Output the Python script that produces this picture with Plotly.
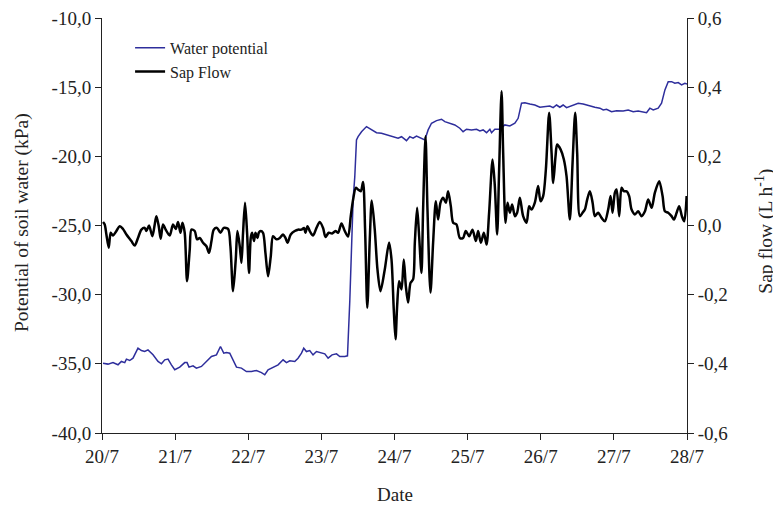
import plotly.graph_objects as go

# Days elapsed since 20/7 00:00
date_ticks = [0, 1, 2, 3, 4, 5, 6, 7, 8]
date_labels = ["20/7", "21/7", "22/7", "23/7", "24/7", "25/7", "26/7", "27/7", "28/7"]

kpa_ticks = [-40, -35, -30, -25, -20, -15, -10]
kpa_labels = ["-40,0", "-35,0", "-30,0", "-25,0", "-20,0", "-15,0", "-10,0"]

sap_ticks = [-0.6, -0.4, -0.2, 0.0, 0.2, 0.4, 0.6]
sap_labels = ["-0,6", "-0,4", "-0,2", "0,0", "0,2", "0,4", "0,6"]

# Water potential (kPa)
wp_day = [0.014, 0.082, 0.150, 0.219, 0.265, 0.311, 0.334, 0.379, 0.424, 0.492,
          0.539, 0.584, 0.629, 0.698, 0.766, 0.813, 0.858, 0.903, 0.949, 0.995,
          1.063, 1.131, 1.163, 1.190, 1.245, 1.291, 1.360, 1.428, 1.497, 1.565,
          1.620, 1.665, 1.702, 1.747, 1.792, 1.839, 1.907, 1.975, 2.044, 2.112,
          2.181, 2.226, 2.271, 2.339, 2.408, 2.476, 2.523, 2.568, 2.636, 2.681,
          2.728, 2.759, 2.796, 2.841, 2.886, 2.933, 2.978, 3.047, 3.092, 3.146,
          3.207, 3.252, 3.320, 3.357, 3.389, 3.412, 3.434, 3.457, 3.480, 3.502,
          3.549, 3.617, 3.685, 3.754, 3.822, 3.891, 3.981, 4.049, 4.096, 4.164,
          4.209, 4.254, 4.301, 4.369, 4.415, 4.460, 4.506, 4.575, 4.643, 4.688,
          4.757, 4.825, 4.893, 4.938, 4.985, 5.053, 5.122, 5.167, 5.212, 5.259,
          5.304, 5.327, 5.372, 5.441, 5.509, 5.577, 5.646, 5.691, 5.737, 5.783,
          5.851, 5.919, 5.988, 6.056, 6.124, 6.170, 6.216, 6.261, 6.306, 6.353,
          6.421, 6.512, 6.580, 6.672, 6.740, 6.809, 6.854, 6.900, 6.968, 7.037,
          7.127, 7.196, 7.264, 7.332, 7.401, 7.447, 7.492, 7.538, 7.606, 7.652,
          7.698, 7.743, 7.789, 7.834, 7.880, 7.926, 7.971, 8.000]
wp_kpa = [-34.95, -35.02, -34.91, -35.07, -34.83, -34.91, -34.66, -34.76, -34.59, -33.87,
          -34.04, -34.11, -33.99, -34.35, -34.83, -35.00, -34.71, -34.66, -35.07, -35.43,
          -35.24, -34.91, -34.91, -35.24, -35.14, -35.31, -35.19, -34.83, -34.47, -34.35,
          -33.75, -34.23, -34.18, -34.23, -34.71, -35.24, -35.31, -35.56, -35.56, -35.48,
          -35.63, -35.79, -35.43, -35.27, -35.07, -34.71, -34.91, -34.78, -34.83, -34.59,
          -34.23, -33.87, -34.11, -34.04, -34.35, -34.11, -34.18, -34.28, -34.59, -34.35,
          -34.28, -34.47, -34.47, -34.42, -30.40, -26.76, -23.15, -21.47, -18.82, -18.58,
          -18.22, -17.85, -18.09, -18.29, -18.33, -18.45, -18.58, -18.69, -18.58, -18.87,
          -18.58, -18.69, -18.53, -18.69, -18.82, -18.09, -17.61, -17.42, -17.32, -17.49,
          -17.61, -17.73, -17.97, -18.22, -18.04, -18.10, -18.04, -18.16, -18.09, -18.29,
          -18.04, -18.29, -18.04, -18.04, -17.73, -17.80, -17.61, -17.25, -16.16, -16.12,
          -16.21, -16.29, -16.45, -16.41, -16.36, -16.48, -16.29, -16.45, -16.29, -16.48,
          -16.36, -16.16, -16.21, -16.36, -16.45, -16.52, -16.65, -16.60, -16.77, -16.70,
          -16.72, -16.65, -16.77, -16.72, -16.77, -16.84, -16.52, -16.65, -16.52, -16.16,
          -15.20, -14.60, -14.60, -14.72, -14.67, -14.84, -14.72, -14.77]

# Sap flow (L h-1)
sf_day = [0.014, 0.037, 0.060, 0.092, 0.119, 0.150, 0.197, 0.242, 0.287, 0.334,
          0.402, 0.447, 0.492, 0.539, 0.584, 0.607, 0.643, 0.689, 0.721, 0.744,
          0.776, 0.803, 0.834, 0.871, 0.926, 0.971, 1.008, 1.040, 1.073, 1.100,
          1.131, 1.163, 1.200, 1.223, 1.268, 1.300, 1.337, 1.382, 1.428, 1.464,
          1.497, 1.528, 1.573, 1.620, 1.665, 1.724, 1.756, 1.792, 1.829, 1.852,
          1.884, 1.907, 1.929, 1.956, 1.984, 2.011, 2.034, 2.052, 2.079, 2.098,
          2.126, 2.144, 2.171, 2.202, 2.235, 2.271, 2.308, 2.339, 2.386, 2.431,
          2.476, 2.509, 2.536, 2.581, 2.636, 2.681, 2.728, 2.763, 2.782, 2.810,
          2.841, 2.886, 2.933, 2.978, 3.023, 3.056, 3.101, 3.146, 3.193, 3.228,
          3.275, 3.320, 3.365, 3.402, 3.434, 3.471, 3.502, 3.539, 3.570, 3.598,
          3.628, 3.662, 3.689, 3.730, 3.767, 3.808, 3.867, 3.926, 3.959, 3.990,
          4.014, 4.036, 4.063, 4.096, 4.127, 4.155, 4.186, 4.219, 4.254, 4.278,
          4.309, 4.337, 4.369, 4.391, 4.424, 4.451, 4.492, 4.528, 4.565, 4.596,
          4.629, 4.665, 4.702, 4.733, 4.770, 4.802, 4.848, 4.893, 4.938, 4.975,
          5.021, 5.067, 5.112, 5.144, 5.181, 5.222, 5.259, 5.294, 5.341, 5.372,
          5.404, 5.431, 5.464, 5.486, 5.518, 5.546, 5.577, 5.609, 5.646, 5.677,
          5.714, 5.759, 5.806, 5.841, 5.874, 5.919, 5.964, 5.997, 6.033, 6.070,
          6.115, 6.148, 6.170, 6.202, 6.224, 6.271, 6.316, 6.353, 6.398, 6.435,
          6.471, 6.498, 6.535, 6.572, 6.603, 6.635, 6.672, 6.709, 6.740, 6.785,
          6.832, 6.877, 6.922, 6.955, 6.982, 7.014, 7.037, 7.073, 7.105, 7.137,
          7.174, 7.209, 7.242, 7.288, 7.332, 7.378, 7.425, 7.469, 7.516, 7.561,
          7.620, 7.666, 7.698, 7.743, 7.789, 7.821, 7.858, 7.893, 7.930, 7.962,
          7.995]
sf_lh = [0.010, 0.003, -0.026, -0.064, -0.021, -0.029, -0.016, -0.002, -0.010, -0.026,
         -0.045, -0.058, -0.036, -0.012, -0.007, -0.016, 0.000, -0.031, 0.003, 0.027,
         -0.002, -0.038, 0.003, -0.012, -0.029, 0.003, -0.010, 0.010, -0.021, 0.008,
         -0.021, -0.161, -0.069, -0.012, -0.016, -0.040, -0.036, -0.050, -0.060, -0.079,
         -0.045, -0.012, -0.007, -0.021, -0.007, -0.010, -0.060, -0.190, -0.098, -0.016,
         -0.060, -0.108, -0.021, 0.066, -0.021, -0.137, -0.036, -0.021, -0.045, -0.021,
         -0.036, -0.021, -0.016, -0.021, -0.079, -0.147, -0.089, -0.031, -0.040, -0.036,
         -0.026, -0.036, -0.050, -0.026, -0.016, -0.012, -0.012, -0.007, -0.021, -0.002,
         -0.016, -0.029, -0.007, 0.010, -0.007, -0.033, -0.021, -0.023, -0.016, -0.021,
         0.006, -0.016, -0.032, 0.027, 0.075, 0.109, 0.104, 0.099, 0.126, -0.012,
         -0.238, -0.040, 0.072, -0.012, -0.127, -0.190, -0.127, -0.049, -0.098, -0.243,
         -0.329, -0.233, -0.161, -0.185, -0.098, -0.175, -0.223, -0.166, -0.156, -0.050,
         0.051, -0.031, -0.137, 0.046, 0.258, 0.046, -0.194, -0.050, 0.070, 0.017,
         0.066, 0.080, 0.066, 0.099, 0.056, 0.008, 0.003, -0.036, -0.036, -0.016,
         -0.031, -0.012, -0.045, -0.016, -0.050, -0.021, -0.055, 0.037, 0.191, 0.114,
         -0.026, 0.162, 0.388, 0.210, 0.008, 0.066, 0.037, 0.061, 0.027, 0.037,
         0.080, 0.027, 0.008, 0.056, 0.046, 0.066, 0.114, 0.070, 0.085, 0.162,
         0.326, 0.210, 0.123, 0.200, 0.234, 0.220, 0.191, 0.142, 0.017, 0.181,
         0.326, 0.210, 0.027, 0.037, 0.046, 0.075, 0.099, 0.066, 0.027, 0.037,
         0.022, 0.012, 0.046, 0.085, 0.037, 0.095, 0.104, 0.027, 0.109, 0.099,
         0.099, 0.085, 0.046, 0.032, 0.041, 0.027, 0.041, 0.075, 0.051, 0.095,
         0.128, 0.085, 0.041, 0.037, 0.027, 0.017, 0.037, 0.056, 0.027, 0.012,
         0.085]

FONT = "Liberation Serif"
TXT = "#222222"

fig = go.Figure()
fig.add_trace(go.Scatter(
    x=wp_day, y=wp_kpa, name="Water potential", mode="lines",
    line=dict(color="#2e2e9c", width=1.5), yaxis="y"))
fig.add_trace(go.Scatter(
    x=sf_day, y=sf_lh, name="Sap Flow", mode="lines",
    line=dict(color="#000000", width=2.5, shape="spline", smoothing=0.8), yaxis="y2"))

axis_common = dict(showgrid=False, zeroline=False, showline=True, linecolor="#222222",
                   linewidth=1, ticks="outside", ticklen=6, tickcolor="#222222",
                   ticklabeloverflow="allow", automargin=False,
                   tickfont=dict(family=FONT, size=19, color=TXT))

fig.update_layout(
    width=781, height=506,
    margin=dict(l=94, r=102, t=10, b=81),
    paper_bgcolor="white", plot_bgcolor="white",
    showlegend=True,
    legend=dict(x=0.048, y=0.969, xanchor="left", yanchor="top",
                font=dict(family=FONT, size=16, color=TXT),
                bgcolor="rgba(0,0,0,0)", tracegroupgap=0, itemwidth=30),
    xaxis=dict(range=[0, 8], tickvals=date_ticks, ticktext=date_labels, **axis_common),
    yaxis=dict(range=[-40, -10], tickvals=kpa_ticks, ticktext=kpa_labels, **axis_common),
    yaxis2=dict(range=[-0.6, 0.6], tickvals=sap_ticks, ticktext=sap_labels,
                overlaying="y", side="right", anchor="x", **axis_common),
    annotations=[
        dict(text="Potential of soil water (kPa)", xref="paper", yref="paper",
             x=-0.137, y=0.508, xanchor="center", yanchor="middle",
             textangle=-90, showarrow=False,
             font=dict(family=FONT, size=19.5, color=TXT)),
        dict(text="Sap flow (L h<sup>-1</sup>)", xref="paper", yref="paper",
             x=1.133, y=0.487, xanchor="center", yanchor="middle",
             textangle=-90, showarrow=False,
             font=dict(family=FONT, size=19.5, color=TXT)),
        dict(text="Date", xref="paper", yref="paper",
             x=0.501, y=-0.149, xanchor="center", yanchor="middle", showarrow=False,
             font=dict(family=FONT, size=19, color=TXT)),
    ],
)

fig.write_html("out.html")
